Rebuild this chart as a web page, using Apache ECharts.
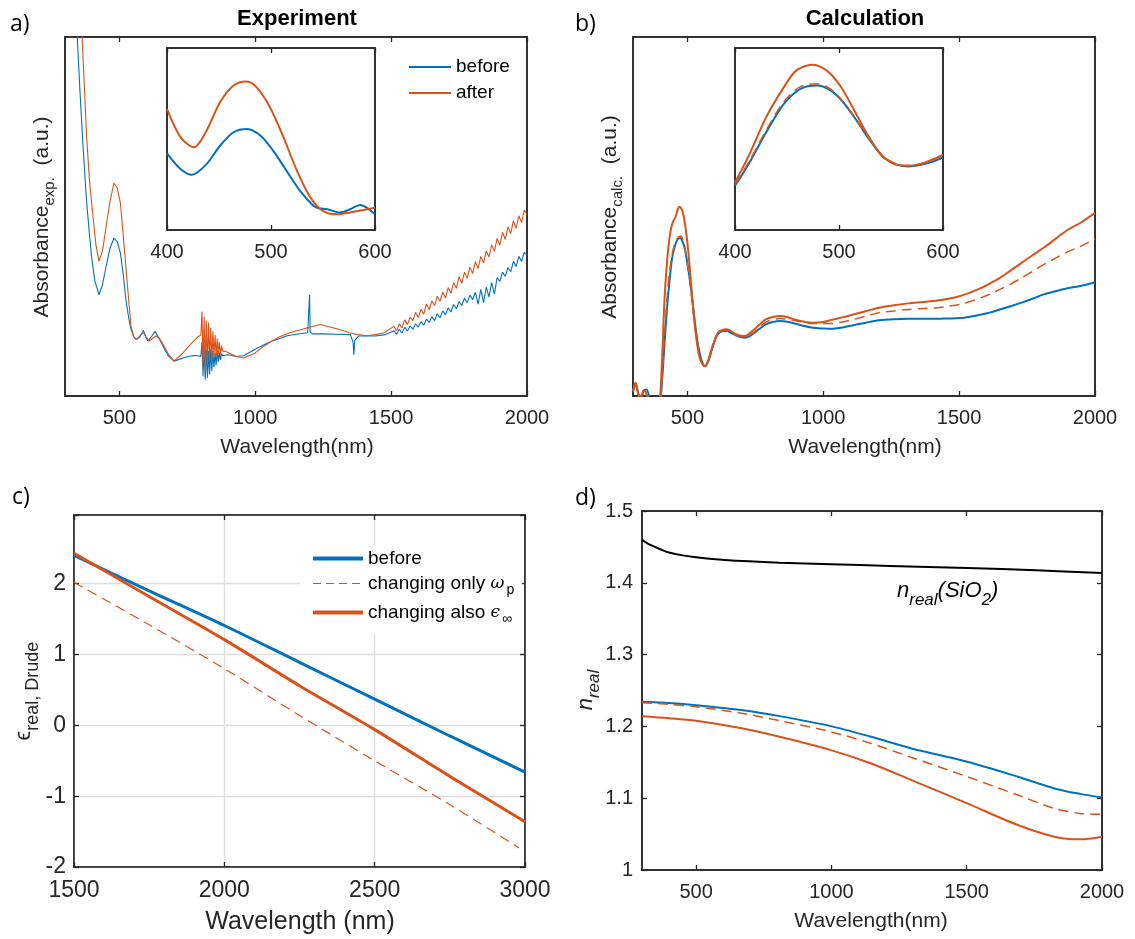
<!DOCTYPE html>
<html><head><meta charset="utf-8">
<script src="https://cdn.jsdelivr.net/npm/echarts@6/dist/echarts.min.js"></script>
<style>html,body{margin:0;padding:0;background:#fff}#c{width:1135px;height:939px}</style>
</head><body><div id="c"></div>
<script>
// ---------------- DATA ----------------
// Panel a (experiment), arbitrary units 0..100
const aBeforeX = [330,345,355,366,379,390,399,410,425,438,451,465,480,492,504,514,524,534,543,553,563,576,589,597,605,618,631,643,655,668,681,701,720,734,755,773,790,
  800,804,808,812,816,820,824,828,832,836,840,844,848,852,856,860,864,868,872,876,880,
  900,930,957,1000,1030,1062,1090,1114,1150,1193,1198,1200,1202,1210,1245,1300,1350,1360,1363,1366,1380,1442,1480,
  1510,1520,1530,1540,1550,1560,1570,1580,1590,1600,1610,1620,1630,1640,1650,1660,1670,1680,1690,1700,1710,1720,1730,1740,1750,1760,1770,1780,1790,1800,1810,1820,1830,1840,1850,1860,1870,1880,1890,1900,1910,1920,1930,1940,1950,1960,1970,1980,1990,2000];
const aBeforeY = [140,100,85,70,54.6,45,38,32,28.2,31,36,41,44,43,39.8,34,26.9,22,18.5,16.5,15.7,16.5,18.3,16.5,15.3,16.5,18,16.5,14.8,12.8,11.1,9.7,10.2,10.6,11,11.3,11.2,
  11,15,5.5,14,4.5,13,5,12.5,6,13,7,12.5,8,12,8.5,12.5,9.5,12,10,11.8,11.2,
  11.5,11,11.2,13,14.2,15.3,16,16.7,17.2,17.6,18,28.2,17.8,17.3,17.3,17.2,17.1,15,11.5,15.5,16.7,16.7,17.1,
  18.2,17.2,18.6,17.6,19.1,18.1,19.5,18.6,20.1,19.2,20.7,19.7,21.4,20.5,22.1,21.0,22.9,21.8,23.7,22.6,24.6,23.4,25.5,24.3,26.3,25.2,27.3,26.0,28.1,26.8,28.9,25.6,29.7,26.0,30.3,27.6,31.6,28.4,33.0,31.9,34.5,33.3,35.8,34.6,37.5,36.1,38.9,37.5,40.1,39.2];
const aAfterX = [345,363,372,379,390,403,414,425,438,451,465,480,492,504,514,524,534,543,553,563,576,589,598,609,622,635,648,661,681,701,720,734,755,773,790,
  800,804,808,812,816,820,824,828,832,836,840,844,848,852,856,860,864,868,872,876,880,
  890,904,930,957,1000,1030,1062,1090,1127,1160,1193,1239,1275,1311,1345,1377,1410,1442,1475,
  1510,1520,1530,1540,1550,1560,1570,1580,1590,1600,1610,1620,1630,1640,1650,1660,1670,1680,1690,1700,1710,1720,1730,1740,1750,1760,1770,1780,1790,1800,1810,1820,1830,1840,1850,1860,1870,1880,1890,1900,1910,1920,1930,1940,1950,1960,1970,1980,1990,2000];
const aAfterY = [130,100,85,73,60,50,42,37.5,40.5,47,54,59.3,58,53.7,45,36,27,19.4,16.5,15.7,16.8,17.6,16.5,15.3,16,16.7,16,14.4,11.6,9.7,11,12,13.8,15.3,16.5,
  17,23.5,9,22,7,21,8.5,20.5,10,19,9.5,18,11,17,11,16,11.5,15,11.5,14,12.5,
  12.5,12,11,10.6,12,13.8,15.3,16.5,17.6,18.3,19,19.9,19.2,18.5,17.6,17.1,16.8,17.1,17.6,
  19.4,18.2,20.1,19.0,21.2,19.9,22.0,21.0,23.3,21.9,24.1,22.8,25.6,24.1,26.5,25.2,27.8,26.4,28.9,27.3,30.2,28.6,31.6,30.0,33.2,31.4,34.5,32.8,35.9,34.1,37.4,35.5,38.9,37.0,40.4,38.7,42.1,40.3,43.9,42.0,45.6,43.6,47.1,45.2,48.8,46.7,50.2,48.3,51.8,50.5];
// Panel a inset
const aInBeforeX = [400,413,424,438,451,464,477,490,502,515,528,541,546,554,566,576,586,592,600];
const aInBeforeY = [42.1,33.5,30.3,36.2,46.3,53.7,55.5,51.8,43.6,32.5,21.5,13.2,12,11.4,9.6,11.4,13.8,12.3,8.6];
const aInAfterX = [400,413,426,438,451,464,476,486,499,512,525,538,550,563,576,589,600];
const aInAfterY = [66.5,51,45.4,54.6,70.2,79.4,81.6,78.5,67.5,51,32.5,17.8,10.5,8.6,9.6,11,12.3];

// Panel b (calculation), arbitrary units 0..100
const bBeforeX = [300,310,320,330,340,350,360,370,380,395,403,413,423,433,443,453,464,474,482,490,500,511,521,531,541,551,558,565,575,585,598,612,628,646,662,679,696,713,730,747,767,787,814,841,868,895,930,962,1000,1030,1070,1110,1160,1205,1260,1313,1370,1420,1460,1501,1540,1582,1615,1650,1690,1730,1770,1811,1850,1892,1950,2000];
const bBeforeY = [1.2,3.4,0.5,-0.5,1.5,1.8,-0.5,-5,-10,-8,0,11,22.3,31,38,41.5,43.6,44,43,41.3,37,31.5,25,18.6,13.5,10.2,8.8,8.3,9.3,11.6,14.8,17.2,18,18.1,17.5,16.9,16.4,16.2,16.7,17.6,18.8,19.9,20.6,20.9,20.7,20.2,19.5,19,18.8,18.7,19.1,19.7,20.5,21.1,21.4,21.5,21.5,21.5,21.6,21.7,22.1,22.7,23.3,24.1,25,26,27.1,28.3,29.1,29.9,30.7,31.7];
const bAfterX = [300,305,309,314,320,327,333,340,346,352,360,375,390,398,407,416,426,437,447,457,464,470,477,484,494,504,514,524,534,544,555,565,575,585,598,612,628,646,662,679,696,713,730,747,767,787,814,841,868,895,930,962,1000,1030,1070,1110,1160,1205,1260,1313,1370,1420,1460,1501,1540,1582,1615,1650,1690,1730,1770,1811,1850,1892,1950,2000];
const bAfterY = [1.4,2.8,3.7,2.5,0.3,-0.8,0.5,1.6,1.3,-0.3,-4,-12,-10,-3,10,27,38,45.5,48.5,50,51.8,52.7,52.3,51,46.5,39.9,31,22.3,15.5,11.1,9,8.3,9.5,12,15,17.6,18.4,18.6,18,17.2,16.8,16.7,17.5,18.6,20,21.3,22,22.3,22,21.3,20.7,20.4,20.6,21.2,21.9,22.7,23.7,24.6,25.3,25.8,26.2,26.6,27.1,27.8,28.8,30.1,31.4,32.9,35,37.1,39.2,41.3,43.5,45.9,48.4,51];
const bOmegaX = [300,305,309,314,320,327,333,340,346,352,360,375,390,398,407,416,426,437,447,457,467,477,487,497,507,517,527,537,547,557,565,575,585,598,612,628,646,662,679,713,747,787,841,895,962,1000,1030,1070,1110,1160,1205,1260,1313,1370,1420,1460,1501,1540,1582,1615,1650,1690,1730,1770,1811,1850,1892,1950,2000];
const bOmegaY = [1.4,2.8,3.7,2.5,0.3,-0.8,0.5,1.6,1.3,-0.3,-4,-12,-10,-6,5,17,28,36,40.5,43,44.3,44.5,42.5,38.5,33,26.5,20,14.5,10.8,8.8,8.3,9.4,11.8,15,17.4,18.2,18.3,17.7,17,16.5,17.9,20.5,21.6,21,20.2,20.2,20.2,20.6,21.3,22.3,23.2,23.7,24.1,24.4,24.6,25,25.5,26.3,27.4,28.4,29.7,31.2,32.9,34.7,36.6,38.2,39.9,41.8,43.8];
// Panel b inset
const bInBeforeX = [400,414,430,447,463,479,492,504,517,530,543,556,567,578,591,600];
const bInBeforeY = [24.3,37.1,53.7,69.3,77.6,79.4,76.7,70.2,60.1,49.1,39.9,35.8,34.9,35.7,37.7,39.9];
const bInAfterX = [400,414,430,447,459,474,488,501,514,527,540,552,565,578,591,600];
const bInAfterY = [26.1,41.7,62,78.5,87.7,90.8,87.7,79.4,66.5,52.8,41.7,36.6,35.3,36.2,39,41.4];
const bInOmegaX = [400,414,430,447,463,479,492,504,517,530,543,556,567,578,591,600];
const bInOmegaY = [25,38,54.8,70.5,78.8,80.3,77.4,70.5,60.4,49.4,40.2,36.2,35.4,36.3,38.6,40.8];

// Panel c (Drude real permittivity)
const cX = [1500,1750,2000,2250,2500,2750,3000];
const cBefore = [2.40,1.90,1.41,0.89,0.37,-0.15,-0.66];
const cAlso = [2.43,1.82,1.21,0.56,-0.06,-0.72,-1.36];
const cOmegaX = [1500,1750,2000,2250,2500,2750,2980];
const cOmega = [2.02,1.42,0.80,0.14,-0.50,-1.12,-1.73];

// Panel d (n real)
const dX = [300,400,500,673,809,998,1147,1296,1502,1689,1824,1919,2000];
const dSiO2X = [300,320,348,375,403,450,500,606,809,998,1215,1502,1756,2000];
const dSiO2 = [1.460,1.455,1.450,1.4455,1.4418,1.4382,1.4355,1.4318,1.428,1.4258,1.4235,1.4207,1.4174,1.4137];
const dBefore = [1.2342,1.2325,1.2296,1.2226,1.2143,1.2004,1.1855,1.1693,1.1507,1.1299,1.1136,1.1060,1.1011];
const dOmega = [1.2328,1.2308,1.2273,1.2180,1.2078,1.1925,1.1763,1.1568,1.1299,1.1044,1.0858,1.0788,1.0775];
const dAlso = [1.2143,1.2115,1.2078,1.1971,1.1855,1.1670,1.1484,1.1252,1.0928,1.0626,1.0464,1.0427,1.0464];

const ticksMain = [500,1000,1500,2000];
const ticksInset = [400,500,600];

// ---------------- STYLE ----------------
const BLUE = '#0072BD', ORANGE = '#D95319', AX = '#262626';
const FONT = 'Liberation Sans, Arial, sans-serif';
const zip = (xs, ys) => xs.map((x, i) => [x, ys[i]]);

const grids = [
  {left:65, top:37, width:462, height:359},   // 0 a
  {left:167, top:48, width:208, height:182},  // 1 a inset
  {left:633, top:37, width:462, height:359},  // 2 b
  {left:735, top:48, width:208, height:182},  // 3 b inset
  {left:74, top:515, width:451, height:352},  // 4 c
  {left:642, top:511, width:460, height:359}  // 5 d
].map(g => Object.assign({show:true, borderColor:AX, borderWidth:1.5, backgroundColor:'#fff', containLabel:false}, g));

const xAxes = [], yAxes = [];
function xAx(gi, min, max, opt) {
  const o = Object.assign({labels:true, ticks:null, interval:null, font:20, margin:12, split:false}, opt || {});
  const mk = (pos, lab) => {
    const a = {type:'value', gridIndex:gi, position:pos, min, max,
      axisLine:{show:true, onZero:false, lineStyle:{color:AX, width:1.5}},
      axisTick:{show:true, inside:true, length:5, lineStyle:{color:AX, width:1.3}},
      axisLabel:{show:lab, color:AX, fontSize:o.font, fontFamily:FONT, margin:o.margin, formatter: v => String(v)},
      splitLine:{show: lab && o.split, lineStyle:{color:'#dedede', width:1.3}}};
    if (o.interval) a.interval = o.interval;
    if (o.ticks) { a.axisTick.customValues = o.ticks; a.axisLabel.customValues = o.ticks; }
    return a;
  };
  xAxes.push(mk('bottom', o.labels));
  xAxes.push(mk('top', false));
  return xAxes.length - 2;
}
function yAx(gi, min, max, opt) {
  const o = Object.assign({ticks:false, interval:null, font:20, margin:8, split:false, fmt:null}, opt || {});
  const mk = (pos, lab) => {
    const a = {type:'value', gridIndex:gi, position:pos, min, max,
      axisLine:{show:true, onZero:false, lineStyle:{color:AX, width:1.5}},
      axisTick:{show:o.ticks, inside:true, length:5, lineStyle:{color:AX, width:1.3}},
      axisLabel:{show:lab && o.ticks, color:AX, fontSize:o.font, fontFamily:FONT, margin:o.margin},
      splitLine:{show: lab && o.split, lineStyle:{color:'#dedede', width:1.3}}};
    if (o.interval) a.interval = o.interval;
    if (o.fmt) a.axisLabel.formatter = o.fmt;
    return a;
  };
  yAxes.push(mk('left', true));
  yAxes.push(mk('right', false));
  return yAxes.length - 2;
}

const xa = xAx(0, 300, 2000, {ticks:ticksMain});
const ya = yAx(0, 0, 100);
const xai = xAx(1, 400, 600, {ticks:ticksInset});
const yai = yAx(1, 0, 100);
const xb = xAx(2, 300, 2000, {ticks:ticksMain});
const yb = yAx(2, 0, 100);
const xbi = xAx(3, 400, 600, {ticks:ticksInset});
const ybi = yAx(3, 0, 100);
const xc = xAx(4, 1500, 3000, {interval:500, font:23, split:true});
const yc = yAx(4, -2, 2.97, {ticks:true, interval:1, font:23, margin:8, split:true,
  fmt: v => Math.abs(v - Math.round(v)) < 1e-6 ? String(Math.round(v)) : ''});
const xd = xAx(5, 300, 2000, {ticks:ticksMain});
const yd = yAx(5, 1, 1.5, {ticks:true, interval:0.1, margin:9});

function line(name, xi, yi, data, color, w, dash, smooth) {
  return {name, type:'line', xAxisIndex:xi, yAxisIndex:yi, data, symbol:'none', clip:true,
    animation:false, silent:true, smooth: smooth === undefined ? 0.3 : smooth,
    lineStyle:{color, width:w, type: dash ? [10, 6] : 'solid'}, itemStyle:{color}};
}

const series = [
  line('a_before', xa, ya, zip(aBeforeX, aBeforeY), BLUE, 1.1, false, false),
  line('a_after', xa, ya, zip(aAfterX, aAfterY), ORANGE, 1.1, false, false),
  line('ai_before', xai, yai, zip(aInBeforeX, aInBeforeY), BLUE, 2),
  line('ai_after', xai, yai, zip(aInAfterX, aInAfterY), ORANGE, 2),
  line('b_before', xb, yb, zip(bBeforeX, bBeforeY), BLUE, 2),
  line('b_omega', xb, yb, zip(bOmegaX, bOmegaY), ORANGE, 1.5, true),
  line('b_after', xb, yb, zip(bAfterX, bAfterY), ORANGE, 2),
  line('bi_before', xbi, ybi, zip(bInBeforeX, bInBeforeY), BLUE, 2),
  line('bi_omega', xbi, ybi, zip(bInOmegaX, bInOmegaY), ORANGE, 1.5, true),
  line('bi_after', xbi, ybi, zip(bInAfterX, bInAfterY), ORANGE, 2),
  line('c_before', xc, yc, zip(cX, cBefore), BLUE, 3),
  line('c_omega', xc, yc, zip(cOmegaX, cOmega), ORANGE, 1.2, true),
  line('c_also', xc, yc, zip(cX, cAlso), ORANGE, 3),
  line('d_sio2', xd, yd, zip(dSiO2X, dSiO2), '#000000', 2),
  line('d_before', xd, yd, zip(dX, dBefore), BLUE, 2),
  line('d_omega', xd, yd, zip(dX, dOmega), ORANGE, 1.5, true),
  line('d_also', xd, yd, zip(dX, dAlso), ORANGE, 2)
];

const legendRich = {
  t: {fontSize:19, fontFamily:FONT, color:'#000', lineHeight:27},
  g: {fontSize:17, fontFamily:'DejaVu Serif, serif', fontStyle:'italic', color:'#000', lineHeight:27},
  s: {fontSize:14, fontFamily:FONT, color:'#000', lineHeight:14, verticalAlign:'bottom', padding:[0,0,0,2]}
};
const legends = [
  {data:['a_before','a_after'], orient:'vertical', left:408, top:56, padding:0, itemWidth:42, itemHeight:12,
   itemGap:4, selectedMode:false, formatter: n => n.slice(2), itemStyle:{opacity:0},
   textStyle:{fontSize:19, fontFamily:FONT, color:'#000', lineHeight:22}},
  {data:[{name:'c_before', lineStyle:{width:4}}, {name:'c_omega', lineStyle:{width:1.2, type:[8, 5]}}, {name:'c_also', lineStyle:{width:4}}],
   orient:'vertical', left:300, top:545, padding:[4,8,8,11],
   backgroundColor:'#fff', itemWidth:50, itemHeight:12, itemGap:6, selectedMode:false, itemStyle:{opacity:0},
   formatter: n => ({c_before:'{t|before}', c_omega:'{t|changing only }{g|ω}{s|p}', c_also:'{t|changing also }{g|ϵ}{s|∞}'})[n],
   textStyle:{fontSize:19, fontFamily:FONT, color:'#000', rich:legendRich}}
];

const sub = (big, small, italic, lh, col) => ({
  m: {fontSize:big, fontFamily:FONT, fill:col || AX, lineHeight:lh, fontStyle: italic ? 'italic' : 'normal'},
  s: {fontSize:small, fontFamily:FONT, fill:col || AX, lineHeight:small, verticalAlign:'bottom', fontStyle: italic ? 'italic' : 'normal'}
});

function txt(x, y, text, size, opt) {
  const o = opt || {};
  return {type:'text', x, y, rotation:o.rot || 0, z:100, silent:true,
    style:{text, fontSize:size, fontFamily:o.family || FONT, fontWeight:o.bold ? 'bold' : 'normal',
      fontStyle:o.italic ? 'italic' : 'normal', fill:o.color || AX,
      align:o.align || 'center', verticalAlign:'middle', rich:o.rich}};
}

const graphics = [
  txt(10, 24, 'a)', 23, {align:'left', family:'Open Sans', color:'#000'}),
  txt(575, 24, 'b)', 23, {align:'left', family:'Open Sans', color:'#000'}),
  txt(12, 497, 'c)', 23, {align:'left', family:'Open Sans', color:'#000'}),
  txt(575, 498, 'd)', 23, {align:'left', family:'Open Sans', color:'#000'}),
  txt(297, 19, 'Experiment', 22, {bold:true, color:'#000'}),
  txt(865, 19, 'Calculation', 22, {bold:true, color:'#000'}),
  txt(297, 447, 'Wavelength(nm)', 21),
  txt(865, 447, 'Wavelength(nm)', 21),
  txt(300, 922, 'Wavelength (nm)', 25),
  txt(871, 921, 'Wavelength(nm)', 21),
  txt(42, 217, '{m|Absorbance}{s|exp.}{m|  (a.u.)}', 21, {rot:Math.PI/2, rich:sub(21,15,false,30)}),
  txt(610, 217, '{m|Absorbance}{s|calc.}{m|  (a.u.)}', 21, {rot:Math.PI/2, rich:sub(21,15,false,30)}),
  txt(24, 691, '{m|ϵ}{s|real, Drude}', 22, {rot:Math.PI/2, rich:sub(22,18,false,36)}),
  txt(586, 690, '{m|n}{s|real}', 22, {rot:Math.PI/2, rich:sub(22,17,true,34)}),
  txt(897, 591, '{m|n}{s|real}{m|(SiO}{s|2}{m|)}', 22, {align:'left', color:'#000', rich:sub(22,17,true,36,'#000')})
];

const chart = echarts.init(document.getElementById('c'), null, {renderer:'canvas'});
chart.setOption({
  animation:false, backgroundColor:'#fff',
  grid:grids, xAxis:xAxes, yAxis:yAxes, series, legend:legends, graphic:graphics
});
</script></body></html>
